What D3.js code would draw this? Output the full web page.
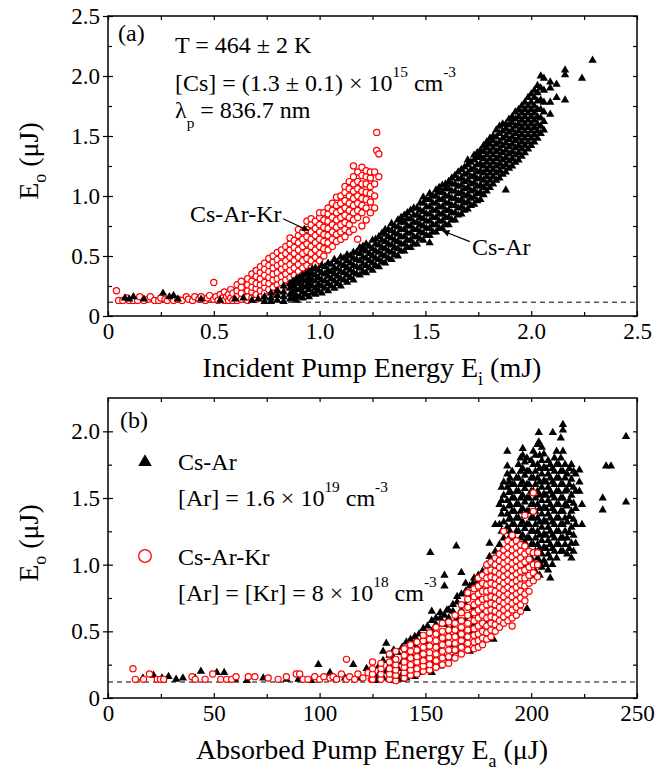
<!DOCTYPE html>
<html>
<head>
<meta charset="utf-8">
<script src="https://cdn.jsdelivr.net/npm/d3@7"></script>
<style>
body { margin: 0; background: #fff; }
</style>
</head>
<body>
<div id="chart-area"></div>
<script>
const FONT = "'Liberation Serif', 'Times New Roman', serif";

// ---- tick values / labels ----
const xTicksA = [0, 0.5, 1, 1.5, 2, 2.5];
const xLabelsA = ["0", "0.5", "1.0", "1.5", "2.0", "2.5"];
const yTicksA = [0, 0.5, 1, 1.5, 2, 2.5];
const yLabelsA = ["0", "0.5", "1.0", "1.5", "2.0", "2.5"];
const xTicksB = [0, 50, 100, 150, 200, 250];
const xLabelsB = ["0", "50", "100", "150", "200", "250"];
const yTicksB = [0, 0.5, 1, 1.5, 2];
const yLabelsB = ["0", "0.5", "1.0", "1.5", "2.0"];
const noiseA = 0.115, noiseB = 0.12;

// ---- (a) Cs-Ar-Kr : [E_i (mJ), [E_o (uJ) ...]] ----
const arKrA = [
[0.04,[0.21]],[0.05,[0.13]],[0.07,[0.13]],[0.09,[0.15]],[0.10,[0.13]],[0.12,[0.13]],[0.14,[0.13]],[0.15,[0.16]],
[0.17,[0.13]],[0.19,[0.14]],[0.20,[0.16]],[0.22,[0.13]],[0.24,[0.13]],[0.25,[0.15]],[0.27,[0.14]],[0.28,[0.13]],
[0.30,[0.15]],[0.31,[0.13]],[0.33,[0.14]],[0.35,[0.13]],[0.37,[0.16]],[0.38,[0.14]],[0.40,[0.13]],[0.41,[0.16]],
[0.43,[0.14]],[0.44,[0.16]],[0.46,[0.13]],[0.47,[0.15]],[0.48,[0.17]],[0.50,[0.14,0.28]],[0.51,[0.16]],[0.52,[0.13]],
[0.53,[0.18]],[0.54,[0.15]],[0.55,[0.13,0.2]],[0.56,[0.16]],[0.57,[0.13,0.18]],[0.58,[0.15,0.22]],[0.59,[0.13,0.19]],
[0.61,[0.13,0.17,0.21,0.26]],[0.63,[0.14,0.19,0.24,0.29]],[0.66,[0.13,0.16,0.21,0.26,0.31]],
[0.68,[0.15,0.2,0.24,0.29,0.35]],[0.70,[0.14,0.18,0.23,0.27,0.33,0.38]],[0.72,[0.16,0.21,0.26,0.31,0.36,0.41]],
[0.74,[0.15,0.19,0.24,0.28,0.34,0.39,0.44]],[0.76,[0.17,0.22,0.27,0.32,0.37,0.42,0.48]],
[0.78,[0.19,0.24,0.3,0.35,0.4,0.45,0.5]],[0.80,[0.2,0.26,0.31,0.36,0.42,0.47,0.53]],
[0.82,[0.23,0.28,0.33,0.39,0.44,0.5,0.55]],[0.84,[0.25,0.3,0.35,0.41,0.46,0.52,0.58]],
[0.86,[0.27,0.32,0.38,0.43,0.49,0.55,0.6,0.65]],[0.88,[0.29,0.34,0.4,0.46,0.52,0.57,0.63]],
[0.90,[0.31,0.37,0.43,0.49,0.55,0.61,0.67,0.72]],[0.92,[0.34,0.4,0.46,0.52,0.58,0.64,0.7]],
[0.94,[0.36,0.42,0.48,0.54,0.6,0.66,0.72,0.79]],[0.96,[0.4,0.46,0.52,0.58,0.64,0.7,0.76,0.81]],
[0.98,[0.43,0.49,0.55,0.61,0.67,0.73,0.79]],[1.00,[0.46,0.52,0.58,0.64,0.7,0.76,0.82,0.86]],
[1.02,[0.5,0.56,0.62,0.68,0.74,0.8,0.86]],[1.04,[0.55,0.61,0.67,0.73,0.79,0.85,0.9]],
[1.06,[0.58,0.64,0.7,0.76,0.82,0.88,0.94]],[1.08,[0.62,0.68,0.74,0.8,0.86,0.92,0.99]],
[1.10,[0.64,0.7,0.76,0.82,0.88,0.94,1.0]],[1.12,[0.66,0.72,0.78,0.84,0.9,0.96,1.03,1.08]],
[1.14,[0.7,0.76,0.82,0.88,0.94,1.0,1.06,1.12]],[1.16,[0.72,0.8,0.86,0.92,0.98,1.04,1.1,1.16,1.25]],
[1.18,[0.64,0.82,0.88,0.94,1.0,1.06,1.12,1.2]],[1.20,[0.75,0.86,0.92,0.98,1.04,1.1,1.17,1.24]],
[1.22,[0.8,0.9,0.97,1.03,1.1,1.16,1.21]],[1.24,[0.86,0.95,1.02,1.08,1.15,1.2]],
[1.26,[0.9,1.0,1.1,1.2]],[1.27,[1.53,1.38]],[1.28,[1.35,1.16]]
];

// ---- (a) Cs-Ar ----
const arA = [
[0.08,[0.15]],[0.10,[0.14]],[0.12,[0.16]],[0.17,[0.14]],[0.26,[0.19]],[0.29,[0.16]],[0.31,[0.17]],[0.33,[0.14]],
[0.44,[0.14]],[0.53,[0.13]],[0.60,[0.14]],[0.64,[0.15]],[0.68,[0.13]],[0.71,[0.14]],
[0.74,[0.12,0.16]],[0.77,[0.12,0.15,0.19]],[0.80,[0.13,0.17,0.21]],[0.83,[0.12,0.16,0.2,0.25]],
[0.86,[0.14,0.18,0.23,0.27]],[0.89,[0.13,0.17,0.22,0.27,0.31]],[0.92,[0.15,0.2,0.25,0.3,0.34]],
[0.95,[0.16,0.22,0.27,0.32,0.37]],[0.98,[0.18,0.23,0.29,0.34,0.4]],[1.01,[0.19,0.25,0.3,0.36,0.42]],
[1.04,[0.21,0.27,0.33,0.38,0.44]],[1.07,[0.23,0.29,0.35,0.4,0.47]],[1.10,[0.25,0.31,0.37,0.43,0.49]],
[1.13,[0.28,0.34,0.4,0.46,0.51]],[1.16,[0.3,0.36,0.42,0.48,0.53]],[1.19,[0.34,0.4,0.46,0.52,0.57]],
[1.22,[0.36,0.42,0.48,0.54,0.6]],[1.25,[0.38,0.44,0.5,0.56,0.63]],[1.28,[0.41,0.47,0.53,0.59,0.66]],
[1.31,[0.44,0.5,0.56,0.62,0.68,0.72]],[1.34,[0.47,0.53,0.59,0.65,0.71,0.77]],
[1.37,[0.5,0.56,0.62,0.68,0.74,0.8]],[1.40,[0.54,0.6,0.66,0.72,0.78,0.84]],
[1.43,[0.57,0.63,0.69,0.75,0.81,0.88]],[1.46,[0.6,0.66,0.72,0.78,0.84,0.9]],
[1.49,[0.63,0.69,0.75,0.81,0.87,0.94,0.99]],[1.52,[0.61,0.67,0.73,0.79,0.85,0.91,0.97,1.02]],
[1.55,[0.7,0.76,0.82,0.88,0.94,1.0,1.05]],[1.58,[0.73,0.79,0.85,0.91,0.97,1.03,1.09]],
[1.61,[0.76,0.82,0.88,0.94,1.0,1.06,1.12]],[1.64,[0.8,0.86,0.92,0.98,1.04,1.1,1.17]],
[1.67,[0.85,0.91,0.97,1.03,1.09,1.15,1.22]],[1.70,[0.89,0.95,1.01,1.07,1.13,1.19,1.26,1.3]],
[1.73,[0.93,0.99,1.05,1.11,1.17,1.23,1.3,1.34]],[1.76,[0.97,1.03,1.09,1.15,1.21,1.27,1.33,1.38]],
[1.79,[1.04,1.1,1.16,1.22,1.28,1.34,1.4,1.45]],[1.82,[1.1,1.16,1.22,1.28,1.34,1.4,1.46,1.5]],
[1.85,[1.15,1.21,1.27,1.33,1.39,1.45,1.52,1.58]],[1.88,[1.05,1.2,1.26,1.32,1.38,1.44,1.5,1.56,1.6]],
[1.91,[1.25,1.31,1.37,1.43,1.49,1.55,1.61,1.66]],[1.94,[1.3,1.36,1.42,1.48,1.54,1.6,1.66,1.72]],
[1.97,[1.36,1.42,1.48,1.54,1.6,1.66,1.72,1.78]],[2.00,[1.42,1.48,1.54,1.6,1.66,1.72,1.78,1.85]],
[2.03,[1.48,1.54,1.6,1.66,1.72,1.79,1.86,1.92]],[2.06,[1.55,1.62,1.7,1.78,1.88,1.98]],
[2.09,[1.68,1.78,1.9,1.95]],[2.12,[1.82,1.93]],[2.16,[1.8,2.01,2.05]],[2.24,[1.98]],[2.29,[2.13]],
// in-between shots of the dense band
[0.875,[0.15,0.2,0.25,0.29]],[0.905,[0.16,0.22,0.27,0.32]],[0.935,[0.18,0.24,0.29,0.35]],
[0.965,[0.19,0.25,0.3,0.35,0.39]],[0.995,[0.21,0.26,0.32,0.38]],[1.025,[0.23,0.29,0.35,0.41]],
[1.055,[0.25,0.31,0.37,0.43]],[1.085,[0.27,0.33,0.39,0.45]],[1.115,[0.3,0.36,0.42,0.48]],
[1.145,[0.32,0.38,0.44,0.5]],[1.175,[0.35,0.41,0.47,0.53]],[1.205,[0.37,0.43,0.49,0.55,0.58]],
[1.235,[0.4,0.46,0.52,0.58]],[1.265,[0.42,0.48,0.54,0.6,0.64]],[1.295,[0.45,0.51,0.57,0.63,0.69]],
[1.325,[0.48,0.54,0.6,0.66,0.72]],[1.355,[0.51,0.57,0.63,0.69,0.75]],[1.385,[0.54,0.6,0.66,0.72,0.78,0.82]],
[1.415,[0.57,0.63,0.69,0.75,0.81,0.86]],[1.445,[0.6,0.66,0.72,0.78,0.84,0.9]],
[1.475,[0.64,0.7,0.76,0.82,0.88,0.94]],[1.505,[0.67,0.73,0.79,0.85,0.91,0.97]],
[1.535,[0.7,0.76,0.82,0.88,0.94,1.0]],[1.565,[0.73,0.79,0.85,0.91,0.97,1.03,1.07]],
[1.595,[0.76,0.82,0.88,0.94,1.0,1.06,1.1]],[1.625,[0.8,0.86,0.92,0.98,1.04,1.1,1.15]],
[1.655,[0.84,0.9,0.96,1.02,1.08,1.14,1.2]],[1.685,[0.88,0.94,1.0,1.06,1.12,1.18,1.24]],
[1.715,[0.92,0.98,1.04,1.1,1.16,1.22,1.28]],[1.745,[0.96,1.02,1.08,1.14,1.2,1.26,1.32,1.36]],
[1.775,[1.01,1.07,1.13,1.19,1.25,1.31,1.37,1.42]],[1.805,[1.07,1.13,1.19,1.25,1.31,1.37,1.43,1.48]],
[1.835,[1.13,1.19,1.25,1.31,1.37,1.43,1.49,1.55]],[1.865,[1.18,1.24,1.3,1.36,1.42,1.48,1.54,1.6]],
[1.895,[1.23,1.29,1.35,1.41,1.47,1.53,1.59,1.64]],[1.925,[1.28,1.34,1.4,1.46,1.52,1.58,1.64,1.7]],
[1.955,[1.33,1.39,1.45,1.51,1.57,1.63,1.69,1.75]],[1.985,[1.39,1.45,1.51,1.57,1.63,1.69,1.75,1.82]],
[2.015,[1.45,1.51,1.57,1.63,1.69,1.75,1.82,1.88]],[2.045,[1.52,1.58,1.65,1.72,1.8,1.9,2.0]]
];

// ---- (b) Cs-Ar : [E_a (uJ), [E_o (uJ) ...]] ----
const arB = [
[16.5,[0.15]],[21.5,[0.17]],[25.5,[0.15]],[28.6,[0.16]],[32.2,[0.14]],[35.4,[0.15]],[41.2,[0.15]],[43.9,[0.2]],
[51.4,[0.19]],[54.9,[0.19]],[60,[0.14]],[65.6,[0.13]],[73.4,[0.15]],[84.4,[0.14]],[90,[0.14]],[96,[0.13]],
[99.4,[0.25]],[104.9,[0.19]],[108,[0.14]],[112,[0.15]],[115.9,[0.25]],[119,[0.15]],[122.2,[0.22]],
[126,[0.13,0.16]],[128,[0.14,0.18,0.24]],[130,[0.15,0.28,0.35]],[131.5,[0.2,0.41]],[133,[0.14,0.18,0.24,0.32]],
[135,[0.13,0.2,0.3,0.36]],[137,[0.15,0.22,0.34]],[139,[0.14,0.18,0.27,0.38]],[141,[0.15,0.2,0.3,0.36,0.42]],
[143,[0.17,0.24,0.33,0.44]],[145,[0.16,0.22,0.3,0.4,0.46]],[147,[0.19,0.27,0.35,0.48]],[149,[0.21,0.3,0.38,0.45,0.52]],
[151,[0.24,0.33,0.42,0.54]],[152.3,[1.09]],[153,[0.19,0.27,0.5,0.58,0.65]],[155,[0.3,0.4,0.55,0.6]],
[157,[0.24,0.35,0.45,0.6,0.64]],[159,[0.3,0.42,0.55,0.62,0.84,0.92]],[160.2,[0.66]],[161,[0.36,0.48,0.6,0.66]],
[163,[0.3,0.4,0.53,0.65,0.7]],[164.6,[1.14]],[165,[0.35,0.47,0.6,0.72,0.76]],[167,[0.4,0.52,0.66,0.78,0.94]],
[169,[0.45,0.58,0.7,0.8,0.86]],[171,[0.35,0.5,0.62,0.76,0.84]],[172.5,[0.86]],[173,[0.42,0.55,0.68,0.82,0.9]],
[175,[0.45,0.6,0.75,0.88,0.92]],[177,[0.5,0.64,0.8,0.95]],[179,[0.55,0.7,0.85,1.0]],[180.3,[1.06,1.16]],
[181,[0.58,0.75,0.9]],[182.2,[0.44]],[183,[0.62,0.8,0.95,1.1,1.3]],[185,[0.68,0.85,1.0,1.15,1.3,1.45]],
[187,[0.72,0.9,1.05,1.2,1.32,1.42,1.52,1.62]],[188.7,[1.28,1.38,1.48,1.58,1.68,1.74,1.85]],
[190,[0.8,0.95,1.1,1.25,1.35,1.45,1.55,1.65]],[192,[0.85,1.0,1.2,1.3,1.4,1.5,1.6]],
[194,[0.9,1.25,1.35,1.45,1.55,1.65,1.75]],[196,[0.95,1.22,1.32,1.42,1.52,1.62,1.72,1.82,1.87]],
[198,[0.67,1.0,1.2,1.3,1.4,1.5,1.6,1.7,1.8]],[200,[0.92,1.05,1.15,1.25,1.35,1.45,1.55,1.65,1.78]],
[202,[0.95,1.1,1.2,1.3,1.4,1.5,1.6,1.7,1.82]],[203.6,[1.92,1.99]],
[205,[0.98,1.08,1.18,1.28,1.38,1.48,1.58,1.68,1.78,1.88]],[207,[1.0,1.12,1.22,1.32,1.42,1.52,1.62,1.72]],
[209,[0.9,1.05,1.15,1.25,1.35,1.45,1.55,1.65,1.75]],[210.2,[1.99]],
[211,[1.1,1.2,1.3,1.4,1.5,1.6,1.7,1.8]],[213,[1.15,1.25,1.35,1.45,1.55,1.65,1.75]],
[215,[1.1,1.2,1.3,1.4,1.5,1.6,1.7,1.85,2.01,2.05]],[217,[1.08,1.2,1.32,1.44,1.56,1.68]],
[219,[1.05,1.16,1.28,1.4,1.52,1.64,1.75]],[221,[1.16,1.3,1.42,1.55,1.68]],[222.8,[1.55,1.62,1.71]],
[224,[1.3,1.45]],[233.8,[1.41,1.5]],[235.4,[1.74]],[237.7,[1.74]],[244.8,[1.47,1.96]],
// in-between shots of the dense upper cloud
[186,[1.1,1.25,1.38,1.48,1.58]],[189.5,[0.9,1.05,1.2,1.34,1.44,1.54,1.62]],[191,[1.3,1.4,1.5,1.6,1.7]],
[193,[1.15,1.25,1.35,1.45,1.55,1.65]],[195,[1.2,1.3,1.4,1.5,1.6,1.7,1.8]],
[197,[1.17,1.27,1.37,1.47,1.57,1.67,1.77]],[199,[1.1,1.2,1.3,1.4,1.5,1.6,1.7]],
[201,[1.0,1.15,1.25,1.35,1.45,1.55,1.65,1.75,1.85]],[203,[1.05,1.15,1.25,1.35,1.45,1.55,1.65,1.75,1.9]],
[204,[0.92,1.02,1.12,1.22,1.32,1.42,1.52,1.62,1.72,1.82]],[206,[1.03,1.13,1.23,1.33,1.43,1.53,1.63,1.73,1.83]],
[208,[0.96,1.08,1.18,1.28,1.38,1.48,1.58,1.68,1.78]],[210,[1.0,1.12,1.22,1.32,1.42,1.52,1.62,1.72]],
[212,[1.05,1.15,1.25,1.35,1.45,1.55,1.65,1.75,1.85]],[214,[1.1,1.2,1.3,1.4,1.5,1.6,1.7,1.8,1.95]],
[216,[1.15,1.25,1.35,1.45,1.55,1.65,1.75]],[218,[1.12,1.24,1.36,1.48,1.6,1.72]],[220,[1.1,1.22,1.34,1.46,1.58,1.7]]
];

// ---- (b) Cs-Ar-Kr ----
const arKrB = [
[11.8,[0.22]],[12.9,[0.14]],[16.8,[0.14]],[19.6,[0.18]],[23.3,[0.14]],[24.8,[0.14]],[26.3,[0.14]],[39.7,[0.16]],
[41.2,[0.14]],[45.9,[0.14]],[49.5,[0.18]],[53.3,[0.14]],[56.1,[0.14]],[58.5,[0.14]],[60.5,[0.16]],[66.3,[0.16]],
[69.4,[0.16]],[75.7,[0.15]],[80.4,[0.14]],[84.3,[0.16]],[89,[0.18]],[90.6,[0.18]],[92.2,[0.14]],[94.5,[0.14]],
[97.7,[0.16]],[100.1,[0.14]],[102,[0.16]],[104.9,[0.15]],[106.4,[0.16]],[108,[0.14]],[110.3,[0.18]],
[112.7,[0.14,0.29]],[114.2,[0.16]],[116.6,[0.14]],[118.1,[0.18]],[120.5,[0.15]],[122.9,[0.19]],[124.4,[0.14]],
[125,[0.14,0.18,0.22,0.27]],[129,[0.14,0.18,0.22,0.26]],
[133,[0.14,0.18,0.22,0.27,0.33]],[136,[0.13,0.17,0.21,0.25,0.29,0.35]],
[140,[0.15,0.19,0.23,0.27,0.32,0.37]],
[143,[0.17,0.21,0.25,0.3,0.35,0.4]],[146,[0.18,0.22,0.27,0.31,0.36,0.42]],
[149,[0.2,0.24,0.28,0.33,0.38,0.43,0.47]],
[152,[0.21,0.25,0.3,0.34,0.39,0.44,0.49]],
[155,[0.23,0.28,0.33,0.38,0.43,0.48,0.53]],
[158,[0.25,0.3,0.35,0.4,0.45,0.5,0.56]],
[161,[0.26,0.31,0.36,0.41,0.46,0.51,0.57]],
[164,[0.3,0.36,0.41,0.46,0.51,0.56,0.62]],
[167,[0.33,0.38,0.43,0.48,0.53,0.58,0.64,0.7]],
[170,[0.36,0.41,0.46,0.51,0.56,0.62,0.68,0.74,0.79]],
[173,[0.37,0.42,0.47,0.52,0.58,0.64,0.7,0.76,0.82]],
[175,[0.38,0.43,0.48,0.54,0.6,0.66,0.72,0.78,0.84,0.9]],[177,[0.4,0.45,0.5,0.56,0.62,0.68,0.74,0.8,0.86,0.92]],
[179,[0.44,0.49,0.54,0.6,0.65,0.7,0.75,0.8,0.85,0.9,0.95,1.0]],
[181,[0.46,0.51,0.56,0.61,0.66,0.71,0.76,0.81,0.86,0.91,0.96,1.02]],
[183,[0.5,0.55,0.6,0.65,0.7,0.75,0.8,0.85,0.9,0.95,1.0,1.05]],
[185,[0.53,0.58,0.63,0.68,0.73,0.78,0.83,0.88,0.93,0.98,1.03,1.08]],
[187,[0.56,0.61,0.66,0.71,0.76,0.81,0.86,0.91,0.96,1.01,1.06,1.11,1.25]],
[189,[0.58,0.63,0.68,0.73,0.78,0.83,0.88,0.93,0.98,1.03,1.08,1.13,1.18]],
[191,[0.54,0.6,0.66,0.71,0.76,0.81,0.86,0.91,0.96,1.01,1.06,1.11,1.16,1.22]],
[193,[0.62,0.68,0.73,0.78,0.83,0.88,0.93,0.98,1.03,1.08,1.13,1.18]],
[195,[0.65,0.7,0.75,0.8,0.85,0.9,0.95,1.0,1.05,1.1,1.15]],
[197,[0.73,0.78,0.84,0.9,0.96,1.02,1.08,1.14,1.37]],[199,[0.8,0.86,0.92,0.98,1.04,1.1]],
[201,[0.88,0.94,1.0,1.09,1.4,1.54]],[203,[0.91,1.0,1.09]]
];

const flat = cols => cols.flatMap(c => c[1].map(v => [c[0], v]));

const W = 668, H = 771;
const svg = d3.select("#chart-area").append("svg")
	.attr("width", W).attr("height", H)
	.style("font-family", FONT)
	.style("display", "block");

svg.append("defs").append("marker")
	.attr("id", "arrow").attr("viewBox", "0 0 10 10")
	.attr("refX", 10).attr("refY", 5)
	.attr("markerUnits", "userSpaceOnUse")
	.attr("markerWidth", 10).attr("markerHeight", 7)
	.attr("orient", "auto")
	.append("path").attr("d", "M0,0L10,5L0,10z").attr("fill", "#000");

const tri = d3.symbol().type(d3.symbolTriangle).size(30);

// text with sub/superscripts: parts = [[text, ""|"sup"|"sub"], ...]
function rich(parent, x0, y0, parts, size, anchor, subDrop) {
	let t = parent.append("text").attr("x", x0).attr("y", y0)
		.style("font-family", FONT)
		.attr("font-size", size).attr("text-anchor", anchor || "start");
	let off = 0;
	let drop = subDrop || 0.4;
	parts.forEach(p => {
		let target = p[1] == "sup" ? -size * 0.58 : p[1] == "sub" ? size * drop : 0;
		t.append("tspan").attr("dy", target - off)
			.attr("font-size", p[1] ? size * 0.64 : size).text(p[0]);
		off = target;
	});
	return t;
}

function drawPanel(p) {
	let x = d3.scaleLinear().domain(p.xDomain).range([108, 637]);
	let y = d3.scaleLinear().domain(p.yDomain).range([p.bottom, p.top]);
	let g = svg.append("g");

	g.append("line")
		.attr("x1", x(p.xDomain[0])).attr("x2", x(p.xDomain[1]))
		.attr("y1", y(p.noise)).attr("y2", y(p.noise))
		.attr("stroke", "#000").attr("stroke-width", 1)
		.attr("stroke-dasharray", "5,4");

	p.layers.forEach(l => {
		let pts = flat(l.data);
		if (l.kind == "tri") {
			g.append("g").selectAll("path").data(pts).enter().append("path")
				.attr("d", tri)
				.attr("transform", d => "translate(" + x(d[0]) + "," + y(d[1]) + ")")
				.attr("fill", "#000");
		} else {
			g.append("g").selectAll("circle").data(pts).enter().append("circle")
				.attr("cx", d => x(d[0])).attr("cy", d => y(d[1])).attr("r", 3.1)
				.attr("fill", "#fff").attr("stroke", "#f00").attr("stroke-width", 1.2);
		}
	});

	let fmt = (vals, labels) => d => labels[vals.indexOf(d)];
	let addAxis = (axis, tf) => {
		let a = g.append("g").attr("transform", tf).call(axis);
		a.style("font-family", FONT).attr("font-size", 23);
		a.select(".domain").remove();
		a.selectAll("line").attr("stroke-width", 1.2);
		a.selectAll("text").attr("fill", "#000");
		return a;
	};
	let bt = "translate(0," + p.bottom + ")", tt = "translate(0," + p.top + ")";
	let lt = "translate(108,0)", rt = "translate(637,0)";

	addAxis(d3.axisBottom(x).tickValues(p.xTicks).tickFormat(fmt(p.xTicks, p.xLabels)).tickSize(-5).tickPadding(7), bt);
	addAxis(d3.axisBottom(x).tickValues(p.xMinor).tickFormat("").tickSize(-4), bt);
	addAxis(d3.axisTop(x).tickValues(p.xTicks.concat(p.xMinor)).tickFormat("").tickSize(-4), tt);
	addAxis(d3.axisLeft(y).tickValues(p.yTicks).tickFormat(fmt(p.yTicks, p.yLabels)).tickSize(-5).tickPadding(8), lt);
	addAxis(d3.axisLeft(y).tickValues(p.yTicks).tickFormat("").tickSize(5), lt);
	addAxis(d3.axisLeft(y).tickValues(p.yMinor).tickFormat("").tickSize(-4), lt);
	addAxis(d3.axisRight(y).tickValues(p.yTicks.concat(p.yMinor)).tickFormat("").tickSize(-4), rt);

	g.append("rect").attr("x", 108).attr("y", p.top)
		.attr("width", 529).attr("height", p.bottom - p.top)
		.attr("fill", "none").attr("stroke", "#000").attr("stroke-width", 1.5);

	rich(g, 372, p.titleY, p.xTitle, 28, "middle", 0.3);
	rich(g, 0, 0, [["E", ""], ["o", "sub"], [" (\u03bcJ)", ""]], 28, "middle", 0.3)
		.attr("transform", "translate(38," + ((p.top + p.bottom) / 2 - 5) + ") rotate(-90)");

	return {x: x, y: y, g: g};
}

// ---- panel (a) ----
let pa = drawPanel({
	xDomain: [0, 2.5], yDomain: [0, 2.5], top: 16, bottom: 316, titleY: 377,
	xTicks: xTicksA, xLabels: xLabelsA, xMinor: [0.25, 0.75, 1.25, 1.75, 2.25],
	yTicks: yTicksA, yLabels: yLabelsA, yMinor: [0.25, 0.75, 1.25, 1.75, 2.25],
	noise: noiseA,
	layers: [{kind: "circ", data: arKrA}, {kind: "tri", data: arA}],
	xTitle: [["Incident Pump Energy E", ""], ["i", "sub"], [" (mJ)", ""]]
});

rich(pa.g, 118, 41, [["(a)", ""]], 24);
rich(pa.g, 175, 53, [["T = 464 \u00b1 2 K", ""]], 24);
rich(pa.g, 175, 91, [["[Cs] = (1.3 \u00b1 0.1) \u00d7 10", ""], ["15", "sup"], [" cm", ""], ["-3", "sup"]], 24);
rich(pa.g, 175, 118, [["\u03bb", ""], ["p", "sub"], [" = 836.7 nm", ""]], 24);

rich(pa.g, pa.x(0.82), pa.y(0.785), [["Cs-Ar-Kr", ""]], 24, "end");
pa.g.append("line")
	.attr("x1", pa.x(0.827)).attr("y1", pa.y(0.81)).attr("x2", pa.x(0.95)).attr("y2", pa.y(0.71))
	.attr("stroke", "#000").attr("stroke-width", 1.2).attr("marker-end", "url(#arrow)");
rich(pa.g, pa.x(1.72), pa.y(0.51), [["Cs-Ar", ""]], 24);
pa.g.append("line")
	.attr("x1", pa.x(1.71)).attr("y1", pa.y(0.62)).attr("x2", pa.x(1.58)).attr("y2", pa.y(0.71))
	.attr("stroke", "#000").attr("stroke-width", 1.2).attr("marker-end", "url(#arrow)");

// ---- panel (b) ----
let pb = drawPanel({
	xDomain: [0, 250], yDomain: [0, 2.25], top: 398, bottom: 698, titleY: 759,
	xTicks: xTicksB, xLabels: xLabelsB, xMinor: [25, 75, 125, 175, 225],
	yTicks: yTicksB, yLabels: yLabelsB, yMinor: [0.25, 0.75, 1.25, 1.75],
	noise: noiseB,
	layers: [{kind: "tri", data: arB}, {kind: "circ", data: arKrB}],
	xTitle: [["Absorbed Pump Energy E", ""], ["a", "sub"], [" (\u03bcJ)", ""]]
});

rich(pb.g, 120, 428, [["(b)", ""]], 24);
pb.g.append("path").attr("d", d3.symbol().type(d3.symbolTriangle).size(80))
	.attr("transform", "translate(145,462)").attr("fill", "#000");
rich(pb.g, 178, 470, [["Cs-Ar", ""]], 24);
rich(pb.g, 178, 506, [["[Ar] = 1.6 \u00d7 10", ""], ["19", "sup"], [" cm", ""], ["-3", "sup"]], 24);
pb.g.append("circle").attr("cx", 145).attr("cy", 556).attr("r", 6.3)
	.attr("fill", "#fff").attr("stroke", "#f00").attr("stroke-width", 1.3);
rich(pb.g, 178, 565, [["Cs-Ar-Kr", ""]], 24);
rich(pb.g, 178, 601, [["[Ar] = [Kr] = 8 \u00d7 10", ""], ["18", "sup"], [" cm", ""], ["-3", "sup"]], 24);
</script>
</body>
</html>
